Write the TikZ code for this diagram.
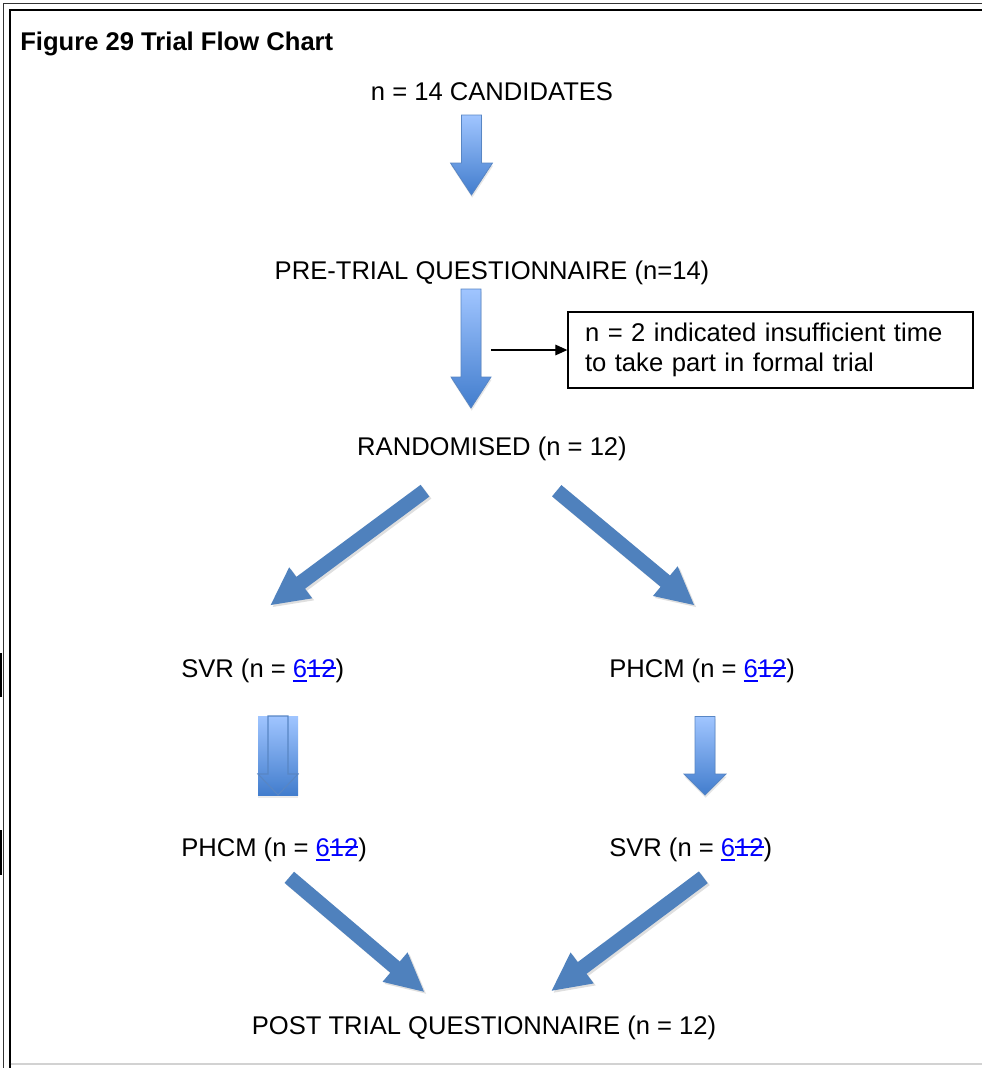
\documentclass[tikz,border=0pt]{standalone}
\usepackage{fontspec}
\setmainfont{Liberation Sans}
\usetikzlibrary{calc,arrows.meta,shadows}
\definecolor{arrowblue}{RGB}{79,129,189}
\definecolor{gradtop}{RGB}{160,197,255}
\definecolor{gradbot}{RGB}{66,125,205}
\definecolor{edgeblue}{RGB}{88,134,196}
\newsavebox\chgbox
\newcommand\ulinetxt[1]{\sbox\chgbox{#1}\rlap{\vrule height -2.3pt depth 3.6pt width \wd\chgbox}\usebox\chgbox}
\newcommand\strktxt[1]{\sbox\chgbox{#1}\rlap{\vrule height 7.6pt depth -6.3pt width \wd\chgbox}\usebox\chgbox}
\newcommand\chgnum{\textcolor{blue}{\ulinetxt{6}\strktxt{12}}}
% block arrow: #1 style, #2 tail, #3 tip, #4 shaft half width, #5 head half width, #6 head length
\newcommand\blockarrow[6]{%
  \coordinate (bhA) at (#2); \coordinate (bhB) at (#3);
  \coordinate (bhH) at ($(bhB)!#6!(bhA)$);
  \path[#1] ($(bhA)!#4!90:(bhB)$) -- ($(bhH)!#4!90:(bhB)$) -- ($(bhH)!#5!90:(bhB)$)
    -- (bhB) -- ($(bhH)!#5!-90:(bhB)$) -- ($(bhH)!#4!-90:(bhB)$) -- ($(bhA)!#4!-90:(bhB)$) -- cycle;}
\tikzset{
  lbl/.style={inner sep=0pt, font=\fontsize{19.2}{22.5}\selectfont},
  titlelbl/.style={inner sep=0pt, font=\fontsize{19.2}{22.5}\selectfont\bfseries},
  notebox/.style={draw, line width=1pt, inner sep=0pt, inner xsep=12.75pt, text width=278.25pt,
    minimum height=57pt, align=left, font=\fontsize{19.2}{22.5}\selectfont},
  vgrad/.style={draw=edgeblue, line width=0.6pt, top color=gradtop, bottom color=gradbot,
    drop shadow={opacity=0.2, shadow xshift=0.5pt, shadow yshift=-2pt}},
  dsolid/.style={fill=arrowblue, drop shadow={opacity=0.25, shadow xshift=1.5pt, shadow yshift=-1.5pt}},
  thinarrow/.style={line width=0.8pt, -{Triangle[length=9pt,width=8pt]}},
  frameout/.style={line width=1.1pt, black!80},
  framein/.style={line width=1.5pt, black},
}
\begin{document}
\begin{tikzpicture}[x=0.75pt,y=-0.75pt]
\useasboundingbox (0,0) rectangle (982,1068);
% frame
\draw[frameout] (3.5,1068) -- (3.5,3.5) -- (982,3.5);
\draw[framein] (9.5,1068) -- (9.5,9.5) -- (982,9.5);
\draw[gray!35, line width=0.8pt] (10.5,1064) -- (982,1064);
\draw[line width=1.2pt] (0.8,653) -- (0.8,697);
\draw[line width=1.2pt] (0.8,830) -- (0.8,875);
% texts
\node[titlelbl, anchor=base west] (title) at (20,50) {Figure 29 Trial Flow Chart};
\node[lbl, anchor=base] (cand) at (492,100) {n = 14 CANDIDATES};
\node[lbl, anchor=base] (pre) at (492,279) {PRE-TRIAL QUESTIONNAIRE (n=14)};
\node[notebox] (note) at (770.5,350) {n = 2 indicated insufficient time\\to take part in formal trial};
\node[lbl, anchor=base] (rand) at (492,455) {RANDOMISED (n = 12)};
\node[lbl, anchor=base west] (svrA) at (181,677) {SVR (n = \chgnum)};
\node[lbl, anchor=base west] (phcmA) at (609,677) {PHCM (n = \chgnum)};
\node[lbl, anchor=base west] (phcmB) at (181,856) {PHCM (n = \chgnum)};
\node[lbl, anchor=base west] (svrB) at (609,856) {SVR (n = \chgnum)};
\node[lbl, anchor=base] (post) at (484,1034) {POST TRIAL QUESTIONNAIRE (n = 12)};
% vertical gradient arrows
\blockarrow{vgrad}{471.5,115}{471.5,195}{7.5pt}{15.75pt}{24pt}
\blockarrow{vgrad}{471,289}{471,408}{7.5pt}{15pt}{23.25pt}
\blockarrow{vgrad}{705,716.5}{705,795}{7.5pt}{15.75pt}{15.75pt}
% SVR arrow: shaded rectangle with outlined arrow
\path[top color=gradtop, bottom color=gradbot, drop shadow={opacity=0.15, shadow xshift=0pt, shadow yshift=-2pt}] (258,716) rectangle (298,795);
\blockarrow{draw=edgeblue, line width=0.8pt}{278,716}{278,795}{7.5pt}{15pt}{15.75pt}
% diagonal arrows
\blockarrow{dsolid}{425,490.7}{270.7,605}{5.5pt}{14.5pt}{28pt}
\blockarrow{dsolid}{556.7,490.7}{694,605}{5.5pt}{14.5pt}{28pt}
\blockarrow{dsolid}{289.3,877.3}{424,991.7}{5.5pt}{14.5pt}{28.5pt}
\blockarrow{dsolid}{703.3,877.3}{551.7,990.7}{5.5pt}{14.5pt}{28.5pt}
% side note connector
\coordinate (pin) at (491,350);
\draw[thinarrow] (pin) -- (note.west);
\end{tikzpicture}
\end{document}
